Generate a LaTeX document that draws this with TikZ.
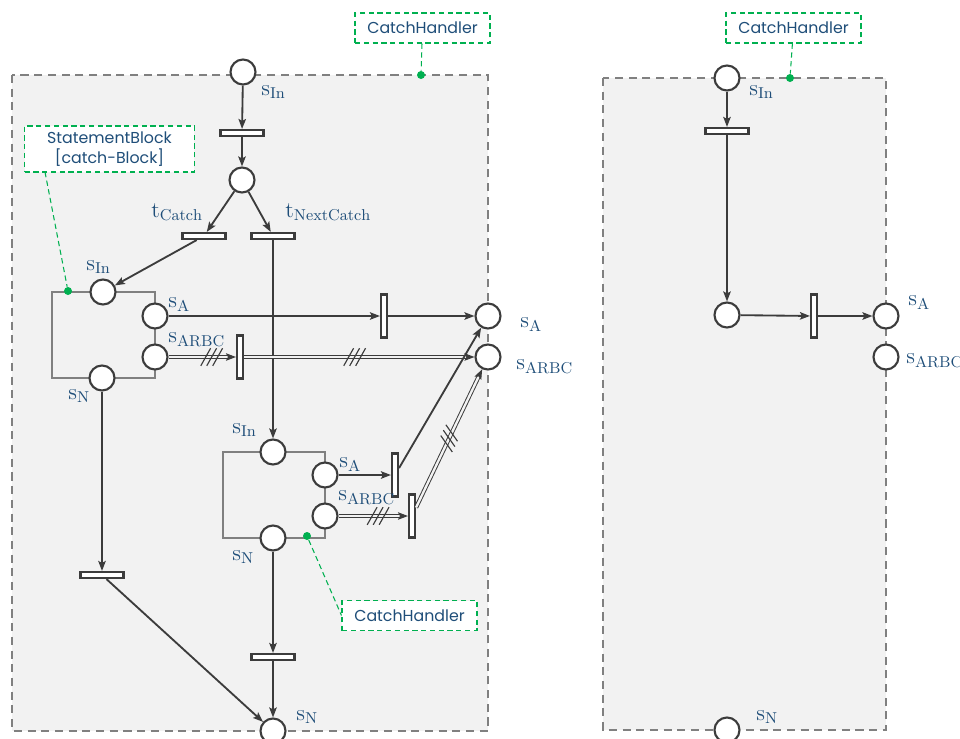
\documentclass[tikz,border=0pt]{standalone}
\usepackage{fontspec}
\newfontfamily\notefont{Poppins}
\usetikzlibrary{arrows.meta,positioning}
\definecolor{ink}{RGB}{60,60,60}
\definecolor{frame}{RGB}{128,128,128}
\definecolor{paper}{RGB}{242,242,242}
\definecolor{navy}{RGB}{31,78,121}
\definecolor{leaf}{RGB}{0,176,80}
\tikzset{
  >={Stealth[length=2mm,width=1.5mm,inset=0.4mm]},
  place/.style={circle,draw=ink,fill=white,line width=1.2pt,minimum size=5mm,inner sep=0pt},
  bar/.style={rectangle,draw=ink,fill=white,line width=1.2pt,inner sep=0pt,
    minimum width=8.6mm,minimum height=1.2mm},
  vbar/.style={bar,minimum width=1.2mm,minimum height=8.6mm},
  flow/.style={->,draw=ink,line width=1.05pt},
  multi/.style={->,draw=ink,line width=0.55pt,double=paper,double distance=1.3pt},
  tag/.style={text=navy,font=\fontsize{12.8}{15}\selectfont,inner sep=0pt,anchor=base west},
  note/.style={draw=leaf,densely dashed,fill=white,line width=0.6pt,text=navy,
    font=\notefont\fontsize{9}{11}\selectfont,align=center,minimum width=2.7cm,minimum height=6mm},
  link/.style={draw=leaf,densely dashed,line width=0.6pt},
  pin/.style={circle,fill=leaf,minimum size=1.6mm,inner sep=0pt},
  handler/.style={draw=frame,fill=paper,line width=1.4pt,dash pattern=on 4.6pt off 3.2pt},
  block/.style={draw=frame,line width=1pt},
  % triple stroke on multi arcs
  pics/hatch/.style={code={
    \foreach \off in {-3.4,0,3.4}
      \draw[-,solid,ink,line width=0.65pt] ({\off pt-2.8pt},-5pt) -- ({\off pt+2.8pt},5pt);
  }},
}
\newcommand{\lbl}[2]{$\mathrm{#1}_{\mathrm{#2}}$}

\begin{document}
\begin{tikzpicture}[x=0.02cm,y=-0.02cm]
  \useasboundingbox (0,0) rectangle (960,738);
  % handler frames and statement blocks
  \draw[handler] (12,75) rectangle (488,731);
  \draw[handler] (603,78) rectangle (886,730);
  \draw[block] (52,292) rectangle (155,378);
  \draw[block] (223,452) rectangle (325,538);

  % left handler: places and transitions
  \node[place] (in) at (243,72) {};
  \node[bar] (t0) at (242,133) {};
  \node[place] (p0) at (242,180) {};
  \node[bar] (tcatch) at (204,236) {};
  \node[bar] (tnext) at (273,236) {};
  \node[place] (b1in) at (103,292) {};
  \node[place] (b1a) at (155,316) {};
  \node[place] (b1r) at (155,357) {};
  \node[place] (b1n) at (102,378) {};
  \node[place] (b2in) at (273,452) {};
  \node[place] (b2a) at (325,475) {};
  \node[place] (b2r) at (325,516) {};
  \node[place] (b2n) at (273,538) {};
  \node[vbar] (va1) at (384,316) {};
  \node[vbar] (vr1) at (240,357) {};
  \node[vbar] (va2) at (395,475) {};
  \node[vbar] (vr2) at (412,516) {};
  \node[bar] (hb1) at (102,575) {};
  \node[bar] (hb2) at (273,657) {};
  \node[place] (outa) at (488,316) {};
  \node[place] (outr) at (488,357) {};
  \node[place] (outn) at (273,731) {};

  \draw[flow] (in) -- (t0);
  \draw[flow] (t0) -- (p0);
  \draw[flow] (p0) -- (tcatch);
  \draw[flow] (p0) -- (tnext);
  \draw[flow] (tcatch) -- (b1in);
  \draw[flow] (tnext) -- (b2in);
  \draw[flow] (b1a) -- (va1);
  \draw[flow] (va1) -- (outa);
  \draw[multi] (b1r) -- (vr1) pic[pos=.64,sloped]{hatch};
  \draw[multi] (vr1) -- (outr) pic[pos=.48,sloped]{hatch};
  \draw[flow] (b2a) -- (va2);
  \draw[flow] (va2) -- (outa);
  \draw[multi] (b2r) -- (vr2) pic[pos=.57,sloped]{hatch};
  \draw[multi] (vr2) -- (outr) pic[pos=.5,sloped]{hatch};
  \draw[flow] (b1n) -- (hb1);
  \draw[flow] (hb1) -- (outn);
  \draw[flow] (b2n) -- (hb2);
  \draw[flow] (hb2) -- (outn);

  % labels
  \node[tag] (lin) at (261,95) {\lbl{s}{In}};
  \node[tag] (lcatch) at (151,217) {\lbl{t}{Catch}};
  \node[tag] (lnext) at (285,217) {\lbl{t}{NextCatch}};
  \node[tag] (lb1in) at (86,270) {\lbl{s}{In}};
  \node[tag] (lb1a) at (168,307) {\lbl{s}{A}};
  \node[tag] (lb1r) at (168,342) {\lbl{s}{ARBC}};
  \node[tag] (lb1n) at (68,399) {\lbl{s}{N}};
  \node[tag] (lb2in) at (232,433) {\lbl{s}{In}};
  \node[tag] (lb2a) at (339,467) {\lbl{s}{A}};
  \node[tag] (lb2r) at (338,500) {\lbl{s}{ARBC}};
  \node[tag] (lb2n) at (232,560) {\lbl{s}{N}};
  \node[tag] (louta) at (520,327) {\lbl{s}{A}};
  \node[tag] (loutr) at (516,369) {\lbl{s}{ARBC}};
  \node[tag] (loutn) at (296,720) {\lbl{s}{N}};

  % notes
  \node[note] (ch1) at (422.5,28) {CatchHandler};
  \node[pin] (d1) at (421,75) {};
  \draw[link] (ch1) -- (d1);
  \node[note,minimum width=3.4cm,minimum height=9.2mm] (sb) at (109.5,149) {StatementBlock\\{}[catch-Block]};
  \node[pin] (d2) at (68,291) {};
  \coordinate (sbfoot) at (45,172);
  \draw[link] (sbfoot) -- (d2);
  \node[note] (ch2) at (409.5,615.5) {CatchHandler};
  \node[pin] (d3) at (307,536) {};
  \draw[link] (d3) -- (ch2.west);

  % right handler
  \node[place] (rin) at (727,78) {};
  \node[bar] (rt) at (727,131) {};
  \node[place] (rp) at (727,315) {};
  \node[vbar] (rv) at (814,316) {};
  \node[place] (ra) at (886,316) {};
  \node[place] (rr) at (886,357) {};
  \node[place] (rn) at (727,730) {};
  \draw[flow] (rin) -- (rt);
  \draw[flow] (rt) -- (rp);
  \draw[flow] (rp) -- (rv);
  \draw[flow] (rv) -- (ra);
  \node[tag] (lrin) at (749,95) {\lbl{s}{In}};
  \node[tag] (lra) at (908,305) {\lbl{s}{A}};
  \node[tag] (lrr) at (906,363) {\lbl{s}{ARBC}};
  \node[tag] (lrn) at (756,720) {\lbl{s}{N}};
  \node[note] (ch3) at (793.5,28) {CatchHandler};
  \node[pin] (d4) at (790,78) {};
  \draw[link] (ch3) -- (d4);
\end{tikzpicture}
\end{document}
